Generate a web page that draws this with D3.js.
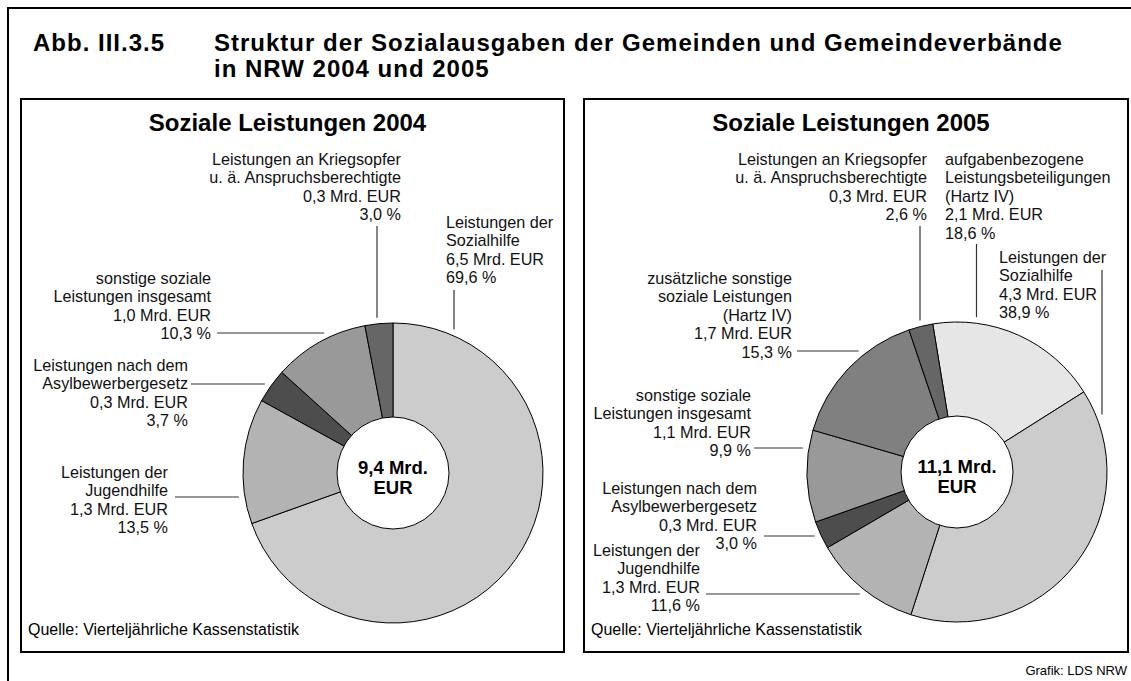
<!DOCTYPE html>
<html>
<head>
<meta charset="utf-8">
<script src="https://cdn.jsdelivr.net/npm/d3@7"></script>
<style>
  body { margin: 0; background: #fff; }
  svg { display: block; font-family: "Liberation Sans", Arial, sans-serif; }
</style>
</head>
<body>
<script>
// data
const categories2004 = [
    "Leistungen der|Sozialhilfe",
    "Leistungen der|Jugendhilfe",
    "Leistungen nach dem|Asylbewerbergesetz",
    "sonstige soziale|Leistungen insgesamt",
    "Leistungen an Kriegsopfer|u. ä. Anspruchsberechtigte"
];
const shares2004 = [69.6, 13.5, 3.7, 10.3, 3.0];
const amounts2004 = [6.5, 1.3, 0.3, 1.0, 0.3];

const categories2005 = [
    "aufgabenbezogene|Leistungsbeteiligungen|(Hartz IV)",
    "Leistungen der|Sozialhilfe",
    "Leistungen der|Jugendhilfe",
    "Leistungen nach dem|Asylbewerbergesetz",
    "sonstige soziale|Leistungen insgesamt",
    "zusätzliche sonstige|soziale Leistungen|(Hartz IV)",
    "Leistungen an Kriegsopfer|u. ä. Anspruchsberechtigte"
];
const shares2005 = [18.6, 38.9, 11.6, 3.0, 9.9, 15.3, 2.6];
const amounts2005 = [2.1, 4.3, 1.3, 0.3, 1.1, 1.7, 0.3];

const years = [2004, 2005];
const totals = [9.4, 11.1];

const W = 1131, H = 681;
const svg = d3.select("body").append("svg")
    .attr("width", W)
    .attr("height", H);

const de = d3.formatLocale({ decimal: ",", thousands: ".", grouping: [3], currency: ["", " EUR"] });
const f1 = de.format(".1f");

const grey = d3.scaleOrdinal()
    .domain([
        "Leistungen der|Sozialhilfe",
        "Leistungen der|Jugendhilfe",
        "Leistungen nach dem|Asylbewerbergesetz",
        "sonstige soziale|Leistungen insgesamt",
        "Leistungen an Kriegsopfer|u. ä. Anspruchsberechtigte",
        "zusätzliche sonstige|soziale Leistungen|(Hartz IV)",
        "aufgabenbezogene|Leistungsbeteiligungen|(Hartz IV)"
    ])
    .range(["#cccccc", "#b3b3b3", "#4d4d4d", "#999999", "#666666", "#808080", "#e6e6e6"]);

// outer frame and titles
svg.append("rect").attr("x", 8).attr("y", 8).attr("width", 1140).attr("height", 700)
    .attr("fill", "none").attr("stroke", "#000").attr("stroke-width", 2);

const title = svg.append("g")
    .attr("font-size", 24).attr("font-weight", "bold").attr("letter-spacing", 1);
title.append("text").attr("x", 33).attr("y", 51).text("Abb. III.3.5");
title.append("text").attr("x", 214).attr("y", 51)
    .text("Struktur der Sozialausgaben der Gemeinden und Gemeindeverbände");
title.append("text").attr("x", 214).attr("y", 77).text("in NRW 2004 und 2005");

svg.append("text").attr("x", 1127).attr("y", 675).attr("text-anchor", "end")
    .attr("font-size", 13).text("Grafik: LDS NRW");

const panels = [
    {
        x: 21, y: 99, w: 543, h: 553, cx: 393, cy: 473, start: 0,
        cats: categories2004, shares: shares2004, amounts: amounts2004,
        labels: [
            { x: 446, y: 222, anchor: "start", lead: "v", at: 454, from: 290 },
            { x: 168, y: 472, anchor: "end", lead: "h", at: 497, from: 175 },
            { x: 188, y: 365, anchor: "end", lead: "h", at: 384, from: 191 },
            { x: 211, y: 278, anchor: "end", lead: "h", at: 333, from: 217 },
            { x: 401, y: 159, anchor: "end", lead: "v", at: 377, from: 226 }
        ]
    },
    {
        x: 584, y: 99, w: 544, h: 553, cx: 957, cy: 472, start: -9.3,
        cats: categories2005, shares: shares2005, amounts: amounts2005,
        labels: [
            { x: 945, y: 159, anchor: "start", lead: "v", at: 976.5, from: 244 },
            { x: 999, y: 257, anchor: "start", lead: "v", at: 1102, from: 270 },
            { x: 700, y: 550, anchor: "end", lead: "h", at: 594, from: 706 },
            { x: 757, y: 488, anchor: "end", lead: "h", at: 536, from: 764 },
            { x: 751, y: 395, anchor: "end", lead: "h", at: 448, from: 754 },
            { x: 792, y: 278, anchor: "end", lead: "h", at: 351, from: 797 },
            { x: 927, y: 159, anchor: "end", lead: "v", at: 920, from: 226 }
        ]
    }
];

const rOuter = 150, rInner = 56, gap = 6, lineH = 18.5;

panels.forEach(function(p, i) {
    const g = svg.append("g");

    g.append("rect").attr("x", p.x).attr("y", p.y).attr("width", p.w).attr("height", p.h)
        .attr("fill", "#fff").attr("stroke", "#000").attr("stroke-width", 2);

    g.append("text").attr("x", p.x + p.w / 2 - 5).attr("y", 131)
        .attr("text-anchor", "middle").attr("font-size", 24).attr("font-weight", "bold")
        .text("Soziale Leistungen " + years[i]);

    g.append("text").attr("x", p.x + 7).attr("y", 635)
        .attr("font-size", 16).text("Quelle: Vierteljährliche Kassenstatistik");

    const a0 = p.start * Math.PI / 180;
    const pie = d3.pie().sort(null).value(d => d).startAngle(a0).endAngle(a0 + 2 * Math.PI);
    const arc = d3.arc().innerRadius(0).outerRadius(rOuter);
    const arcs = pie(p.shares);

    const pg = g.append("g").attr("transform", `translate(${p.cx},${p.cy})`);
    pg.selectAll("path.slice")
        .data(arcs)
        .enter().append("path")
        .attr("class", "slice")
        .attr("d", arc)
        .attr("fill", (d, k) => grey(p.cats[k]))
        .attr("stroke", "#000")
        .attr("stroke-width", 1);

    pg.append("circle").attr("r", rInner)
        .attr("fill", "#fff").attr("stroke", "#000").attr("stroke-width", 1);

    pg.append("text").attr("text-anchor", "middle").attr("y", 1)
        .attr("font-size", 18.5).attr("font-weight", "bold")
        .text(f1(totals[i]) + " Mrd.");
    pg.append("text").attr("text-anchor", "middle").attr("y", 21)
        .attr("font-size", 18.5).attr("font-weight", "bold")
        .text("EUR");

    // labels with leader lines
    p.labels.forEach(function(l, k) {
        const lines = p.cats[k].split("|")
            .concat([f1(p.amounts[k]) + " Mrd. EUR", f1(p.shares[k]) + " %"]);
        const t = g.append("text")
            .attr("text-anchor", l.anchor)
            .attr("font-size", 16.2)
            .attr("fill", "#111");
        lines.forEach(function(s, j) {
            t.append("tspan").attr("x", l.x).attr("y", l.y + 5.5 + j * lineH).text(s);
        });

        const R = rOuter + gap;
        let x1, y1, x2, y2;
        if (l.lead === "v") {
            x1 = x2 = l.at;
            y1 = l.from;
            y2 = p.cy - Math.sqrt(R * R - (l.at - p.cx) * (l.at - p.cx));
        } else {
            y1 = y2 = l.at;
            x1 = l.from;
            x2 = p.cx - Math.sqrt(R * R - (l.at - p.cy) * (l.at - p.cy));
        }
        g.append("line")
            .attr("x1", x1).attr("y1", y1).attr("x2", x2).attr("y2", y2)
            .attr("stroke", "#333").attr("stroke-width", 1.2);
    });
});
</script>
</body>
</html>
